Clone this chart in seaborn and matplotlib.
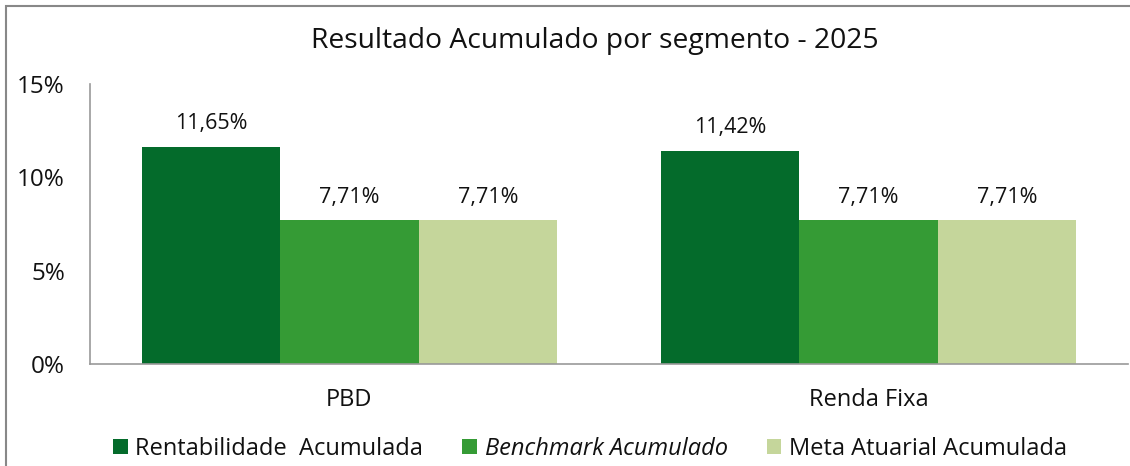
import matplotlib
matplotlib.use("Agg")
import matplotlib.pyplot as plt
import matplotlib.patches as mpatches
import pandas as pd
import seaborn as sns

segments = ["PBD", "Renda Fixa"]
series = ["Rentabilidade  Acumulada", "Benchmark Acumulado", "Meta Atuarial Acumulada"]
rentabilidade = [11.65, 11.42]
benchmark = [7.71, 7.71]
meta = [7.71, 7.71]
yticks = [0, 5, 10, 15]
colors = ["#046B2B", "#359B35", "#C5D69B"]

rows = []
for name, vals in zip(series, [rentabilidade, benchmark, meta]):
    for seg, v in zip(segments, vals):
        rows.append({"segmento": seg, "serie": name, "valor": v})
df = pd.DataFrame(rows)

sns.set_style("white")
plt.rcParams["font.family"] = ["Open Sans", "DejaVu Sans"]
plt.rcParams["text.color"] = "#111111"

fig = plt.figure(figsize=(11.3, 4.66), dpi=100)
ax = fig.add_axes([90 / 1130, 1 - 364 / 466, 1038 / 1130, 280 / 466])

sns.barplot(
    data=df,
    x="segmento",
    y="valor",
    hue="serie",
    palette=colors,
    width=0.8,
    saturation=1,
    linewidth=0,
    ax=ax,
)

for cont in ax.containers:
    ax.bar_label(
        cont,
        labels=[f"{v:.2f}%".replace(".", ",") for v in cont.datavalues],
        padding=9,
        fontsize=15.5,
        color="#111111",
    )

ax.set_ylim(0, 15)
ax.set_xlim(-0.5, 1.5)
ax.set_yticks(yticks)
ax.set_yticklabels([f"{t}%" for t in yticks], fontsize=17.5, color="#111111")
ax.tick_params(axis="y", length=0, pad=18)
ax.tick_params(axis="x", length=0, pad=17, labelsize=17, labelcolor="#111111")
ax.set_xlabel("")
ax.set_ylabel("")
for s in ["top", "right"]:
    ax.spines[s].set_visible(False)
for s in ["left", "bottom"]:
    ax.spines[s].set_color("#999999")
    ax.spines[s].set_linewidth(1.2)

handles, labels = ax.get_legend_handles_labels()
ax.get_legend().remove()
leg = fig.legend(
    handles,
    labels,
    loc="center",
    bbox_to_anchor=(590 / 1130, 1 - 449 / 466),
    ncol=3,
    frameon=False,
    fontsize=17,
    handlelength=0.62,
    handleheight=0.62,
    handletextpad=0.33,
    columnspacing=1.65,
)
leg.get_texts()[1].set_fontstyle("italic")

fig.text(595 / 1130, 1 - 41 / 466, "Resultado Acumulado por segmento - 2025",
         ha="center", va="center", fontsize=20.3, color="#111111")

border = mpatches.Rectangle(
    (6 / 1130, -0.05), 1.1, 1.05 - 6 / 466,
    transform=fig.transFigure, fill=False, edgecolor="#888888", linewidth=1.5,
)
fig.patches.append(border)

fig.savefig("out.png", dpi=100)
